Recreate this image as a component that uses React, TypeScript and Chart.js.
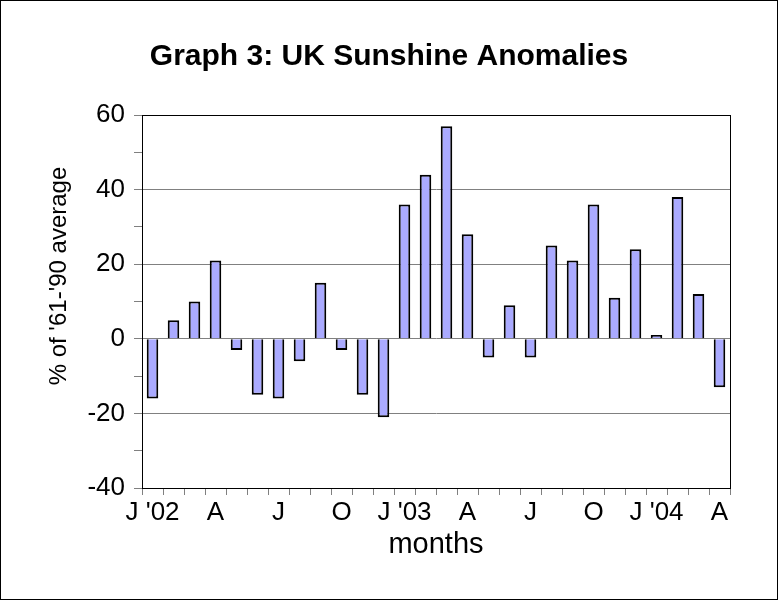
import React, { useEffect, useRef } from 'react';
import { Chart, registerables } from 'chart.js';

Chart.register(...registerables);

// Jan 2002 .. Apr 2004
const months = [
  'Jan 02', 'Feb 02', 'Mar 02', 'Apr 02', 'May 02', 'Jun 02', 'Jul 02', 'Aug 02', 'Sep 02', 'Oct 02', 'Nov 02', 'Dec 02',
  'Jan 03', 'Feb 03', 'Mar 03', 'Apr 03', 'May 03', 'Jun 03', 'Jul 03', 'Aug 03', 'Sep 03', 'Oct 03', 'Nov 03', 'Dec 03',
  'Jan 04', 'Feb 04', 'Mar 04', 'Apr 04',
];
const tickLabels = [
  "J '02", '', '', 'A', '', '', 'J', '', '', 'O', '', '',
  "J '03", '', '', 'A', '', '', 'J', '', '', 'O', '', '',
  "J '04", '', '', 'A',
];
const anomalies = [
  -16, 5, 10, 21, -3, -15, -16, -6, 15, -3, -15, -21,
  36, 44, 57, 28, -5, 9, -5, 25, 21, 36, 11, 24,
  1, 38, 12, -13,
];

const FONT = "'Liberation Sans', Arial, sans-serif";

// outer frame, plot frame and the rotated y title
const framePlugin = {
  id: 'frame',
  afterDraw(chart: any) {
    const { ctx, chartArea: a, width, height } = chart;
    ctx.save();
    ctx.strokeStyle = '#000';
    ctx.lineWidth = 1;
    ctx.strokeRect(Math.round(a.left) + 0.5, Math.round(a.top) + 0.5, Math.round(a.right - a.left), Math.round(a.bottom - a.top));
    ctx.strokeRect(0.5, 0.5, width - 1, height - 1);
    ctx.translate(59, 276);
    ctx.rotate(-Math.PI / 2);
    ctx.fillStyle = '#000';
    ctx.font = `24px ${FONT}`;
    ctx.textAlign = 'center';
    ctx.textBaseline = 'middle';
    ctx.fillText("% of '61-'90 average", 0, 0);
    ctx.restore();
  },
};

export default function App() {
  const canvasRef = useRef<HTMLCanvasElement | null>(null);

  useEffect(() => {
    document.body.style.margin = '0';
    const canvas = canvasRef.current;
    if (!canvas) return;

    const chart = new Chart(canvas, {
      type: 'bar',
      data: {
        labels: months,
        datasets: [
          {
            data: anomalies,
            backgroundColor: '#aaaaff',
            borderColor: '#000',
            borderWidth: 2,
            barPercentage: 0.55,
            categoryPercentage: 1,
          },
        ],
      },
      options: {
        animation: false,
        responsive: true,
        maintainAspectRatio: false,
        layout: { padding: { left: 48, right: 48, top: 0, bottom: 0 } },
        plugins: {
          legend: { display: false },
          tooltip: { enabled: false },
          title: {
            display: true,
            text: 'Graph 3: UK Sunshine Anomalies',
            color: '#000',
            font: { family: FONT, size: 30, weight: 'bold' },
            padding: { top: 39, bottom: 40 },
          },
        },
        scales: {
          x: {
            afterFit: (scale: any) => { scale.height = 112; },
            grid: { drawOnChartArea: false, drawTicks: true, tickLength: 7, tickColor: '#808080' },
            border: { color: '#000', width: 1 },
            ticks: {
              autoSkip: false,
              maxRotation: 0,
              minRotation: 0,
              padding: 2,
              color: '#000',
              font: { family: FONT, size: 26 },
              callback: (_v: any, i: number) => tickLabels[i],
            },
            title: {
              display: true,
              text: 'months',
              color: '#000',
              font: { family: FONT, size: 29 },
              padding: { top: 38, bottom: 38 },
            },
          },
          y: {
            min: -40,
            max: 60,
            afterFit: (scale: any) => { scale.width = 94; },
            grid: {
              color: (c: any) => (c.tick && c.tick.value % 20 === 0 ? '#808080' : 'rgba(0,0,0,0)'),
              tickColor: '#808080',
              tickLength: 8,
            },
            border: { color: '#000', width: 1 },
            ticks: {
              stepSize: 10,
              padding: 9,
              color: '#000',
              font: { family: FONT, size: 26 },
              callback: (v: any) => (Number(v) % 20 === 0 ? String(v) : ''),
            },
          },
        },
      },
      plugins: [framePlugin],
    });

    return () => chart.destroy();
  }, []);

  return (
    <div style={{ position: 'relative', width: 778, height: 600, background: '#fff' }}>
      <canvas ref={canvasRef} />
    </div>
  );
}
